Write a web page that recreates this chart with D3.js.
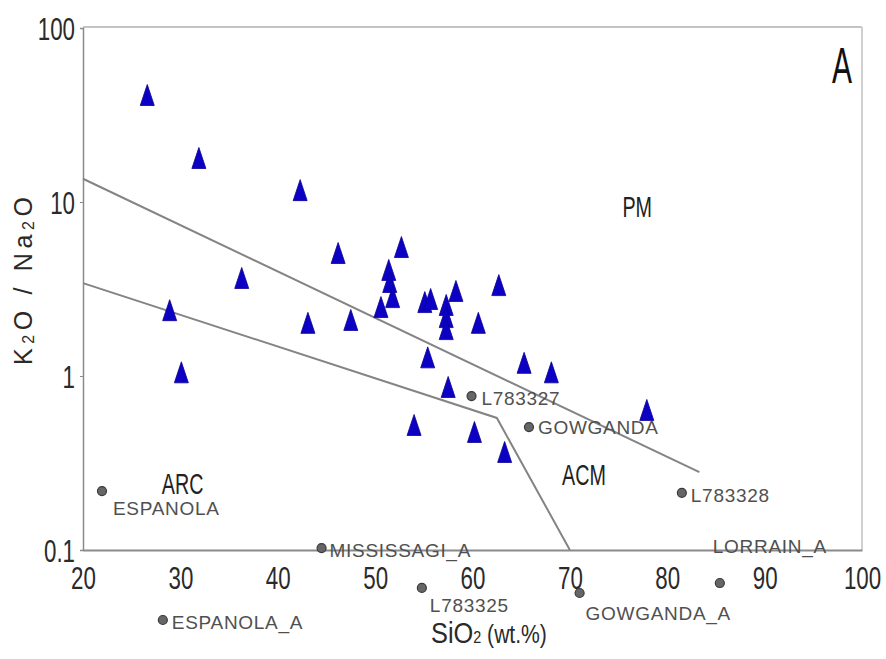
<!DOCTYPE html>
<html>
<head>
<meta charset="utf-8">
<script src="https://cdn.jsdelivr.net/npm/d3@7"></script>
<style>
  html, body { margin: 0; padding: 0; background: #fff; }
  svg { display: block; font-family: Arial, 'Liberation Sans', sans-serif; }
</style>
</head>
<body>
<svg id="chart" width="886" height="659"></svg>
<script>
// blue triangles: SiO2 (wt.%) and K2O/Na2O
const sampleSiO2 = [26.6, 31.9, 42.3, 36.3, 28.9, 30.1, 46.2, 52.7, 51.4, 51.5, 51.8, 50.6, 43.1, 47.5, 55.1,
  55.7, 58.3, 57.3, 57.3, 57.3, 62.7, 60.6, 55.4, 57.5, 65.3, 68.1, 77.9, 54.0, 60.2, 63.3]
const sampleRatio = [41.2, 17.9, 11.7, 3.66, 2.39, 1.05, 5.09, 5.51, 4.07, 3.47, 2.84, 2.49, 2.02, 2.10, 2.66,
  2.77, 3.08, 2.56, 2.18, 1.86, 3.33, 2.02, 1.28, 0.865, 1.19, 1.05, 0.638, 0.523, 0.477, 0.366]

// grey labelled reference points
const refNames = ['ESPANOLA', 'MISSISSAGI_A', 'L783325', 'ESPANOLA_A', 'GOWGANDA_A', 'LORRAIN_A', 'L783328', 'GOWGANDA', 'L783327']
const refSiO2 = [21.95, 44.5, 54.8, 28.2, 71.0, 85.4, 81.5, 65.8, 59.9]
const refRatio = [0.218, 0.1026, 0.0605, 0.0396, 0.0566, 0.0646, 0.213, 0.509, 0.767]

// field boundaries (SiO2, K2O/Na2O)
const upperBoundary = [[20, 13.6], [83.3, 0.28]]
const lowerBoundary = [[20, 3.42], [62.5, 0.574], [70, 0.1]]

const fieldNames = ['ARC', 'ACM', 'PM']
const fieldSiO2 = [28.1, 69.2, 75.4]
const fieldRatio = [0.21, 0.237, 8.2]

const xTicks = [20, 30, 40, 50, 60, 70, 80, 90, 100]
const yTicks = [0.1, 1, 10, 100]

// label offsets from the dot, in px
const labelOffset = {
  ESPANOLA: [11, 24],
  MISSISSAGI_A: [8, 9],
  L783325: [8, 24],
  ESPANOLA_A: [9, 9],
  GOWGANDA_A: [6, 27],
  LORRAIN_A: [-7, -30],
  L783328: [9, 9],
  GOWGANDA: [9, 7],
  L783327: [10, 9]
}

const svg = d3.select('#chart')
const plotLeft = 83
const plotRight = 862
const plotTop = 28
const plotBottom = 550

const x = d3.scaleLinear().domain([20, 100]).range([plotLeft, plotRight])
const y = d3.scaleLog().domain([0.1, 100]).range([plotBottom, plotTop])

// squeeze text horizontally around its x anchor (narrow font look)
function squeeze (sel, k) {
  sel.each(function () {
    const t = d3.select(this)
    const ax = +t.attr('x') || 0
    t.attr('transform', `translate(${ax},0) scale(${k},1) translate(${-ax},0)`)
  })
}

function fitWidth (sel, w) {
  sel.each(function () {
    const k = w / this.getComputedTextLength()
    squeeze(d3.select(this), k)
  })
}

// frame
svg.append('line')
  .attr('x1', plotLeft).attr('x2', plotRight).attr('y1', plotTop - 1).attr('y2', plotTop - 1)
  .attr('stroke', '#c4c4c4').attr('stroke-width', 2)
svg.append('line')
  .attr('x1', plotRight).attr('x2', plotRight).attr('y1', plotTop - 1).attr('y2', plotBottom)
  .attr('stroke', '#d0d0d0').attr('stroke-width', 2)

// axes
const xAxis = svg.append('g')
  .attr('transform', `translate(0,${plotBottom})`)
  .call(d3.axisBottom(x).tickValues(xTicks).tickSize(0).tickFormat(d3.format('d')))
xAxis.select('.domain').attr('stroke', '#8a8a8a').attr('stroke-width', 2)
xAxis.selectAll('text')
  .attr('y', 39).attr('dy', null)
  .attr('font-size', 31).attr('fill', '#2a2a2a')
  .call(squeeze, 0.72)

const yAxis = svg.append('g')
  .attr('transform', `translate(${plotLeft},0)`)
  .call(d3.axisLeft(y).tickValues(yTicks).tickSize(3).tickPadding(5).tickFormat(d => d))
yAxis.select('.domain').attr('stroke', '#8a8a8a').attr('stroke-width', 1.5)
yAxis.selectAll('.tick line').attr('stroke', '#8a8a8a')
yAxis.selectAll('text')
  .attr('dy', '0.36em')
  .attr('font-size', 31).attr('fill', '#2a2a2a')
  .call(squeeze, 0.72)

// axis titles
const yTitle = svg.append('g')
  .attr('transform', 'translate(32,281) rotate(-90)')
  .append('text')
  .attr('text-anchor', 'middle')
  .attr('font-size', 25)
  .attr('fill', '#2a2a2a')
  .attr('textLength', 168)
  .attr('lengthAdjust', 'spacing')
yTitle.append('tspan').text('K')
yTitle.append('tspan').attr('font-size', 16).attr('dy', 2).text('2')
yTitle.append('tspan').attr('dy', -2).text('O / Na')
yTitle.append('tspan').attr('font-size', 16).attr('dy', 2).text('2')
yTitle.append('tspan').attr('dy', -2).text('O')

const xTitle = svg.append('text')
  .attr('x', 431).attr('y', 643)
  .attr('fill', '#2a2a2a')
xTitle.append('tspan').attr('font-size', 30).text('SiO')
xTitle.append('tspan').attr('font-size', 17).text('2')
xTitle.append('tspan').attr('font-size', 25).text(' (wt.%)')
fitWidth(xTitle, 116)

// field boundaries
const line = d3.line().x(d => x(d[0])).y(d => y(d[1]))
svg.selectAll('path.boundary')
  .data([upperBoundary, lowerBoundary])
  .join('path')
  .attr('class', 'boundary')
  .attr('d', line)
  .attr('fill', 'none')
  .attr('stroke', '#848484')
  .attr('stroke-width', 2)

// field names
svg.selectAll('text.field')
  .data(fieldNames)
  .join('text')
  .attr('class', 'field')
  .attr('x', (d, i) => x(fieldSiO2[i]))
  .attr('y', (d, i) => y(fieldRatio[i]))
  .attr('font-size', 29)
  .attr('fill', '#222')
  .text(d => d)
  .call(squeeze, 0.68)

// panel letter
svg.append('text')
  .attr('x', 852).attr('y', 83)
  .attr('text-anchor', 'end')
  .attr('font-size', 50)
  .attr('fill', '#111')
  .text('A')
  .call(squeeze, 0.6)

// triangles
const tri = 'M0,-10.5L7,10.5L-7,10.5Z'
svg.append('g')
  .selectAll('path')
  .data(sampleSiO2.map((s, i) => [s, sampleRatio[i]]))
  .join('path')
  .attr('d', tri)
  .attr('transform', d => `translate(${x(d[0])},${y(d[1])})`)
  .attr('fill', '#0c00c4')
  .attr('stroke', '#0a0090')
  .attr('stroke-width', 0.8)

// reference points + labels
const refs = refNames.map((n, i) => ({ name: n, si: refSiO2[i], ratio: refRatio[i] }))
svg.append('g')
  .selectAll('circle')
  .data(refs)
  .join('circle')
  .attr('cx', d => x(d.si))
  .attr('cy', d => y(d.ratio))
  .attr('r', 4.5)
  .attr('fill', '#666')
  .attr('stroke', '#3a3a3a')
  .attr('stroke-width', 1.2)

svg.append('g')
  .selectAll('text')
  .data(refs)
  .join('text')
  .attr('x', d => x(d.si) + labelOffset[d.name][0])
  .attr('y', d => y(d.ratio) + labelOffset[d.name][1])
  .attr('font-size', 19)
  .attr('letter-spacing', 0.7)
  .attr('fill', '#505050')
  .text(d => d.name)
</script>
</body>
</html>
